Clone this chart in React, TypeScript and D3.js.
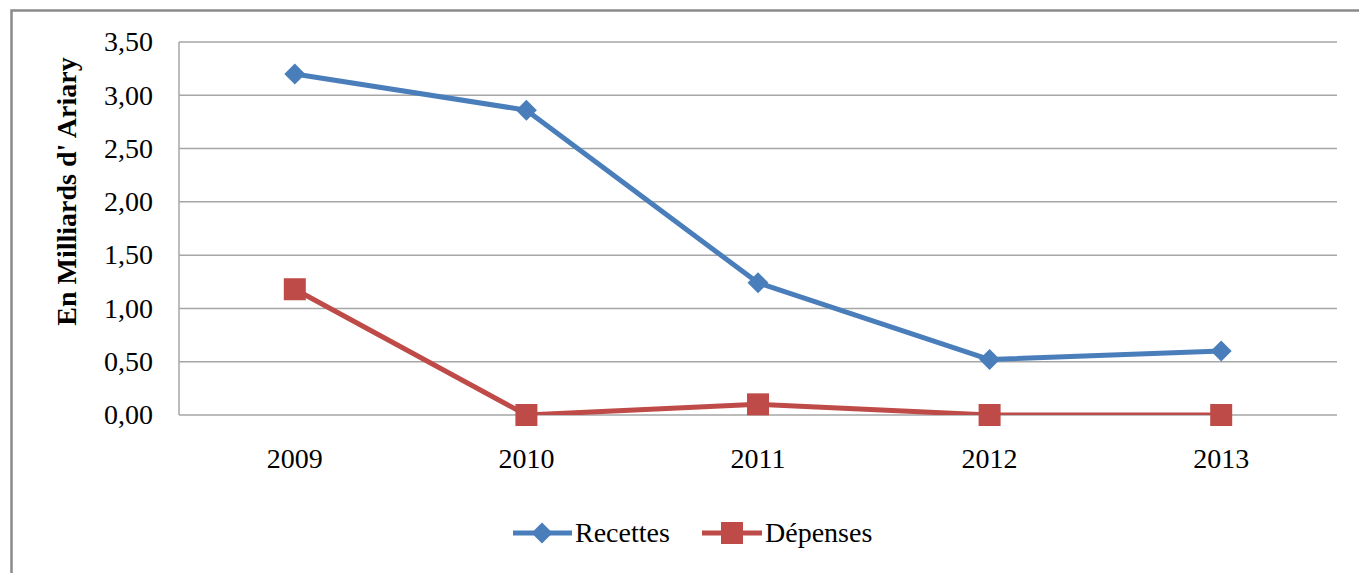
import React from "react";
import * as d3 from "d3";

const years = ["2009", "2010", "2011", "2012", "2013"];
const recettes = [3.2, 2.86, 1.24, 0.52, 0.6];
const depenses = [1.18, 0.0, 0.1, 0.0, 0.0];
const yTicks = [0, 0.5, 1, 1.5, 2, 2.5, 3, 3.5];
const yTitle = "En Milliards d' Ariary";
const seriesNames = ["Recettes", "Dépenses"];

const W = 1359;
const H = 573;
const plot = { left: 179, right: 1337, top: 42, bottom: 415 };
const BLUE = "#4A7EBB";
const RED = "#BE4B48";
const FONT = "Liberation Serif, Times New Roman, serif";
const ts: React.CSSProperties = { fontFamily: FONT };

export default function App() {
  const x = d3.scaleBand<string>().domain(years).range([plot.left, plot.right]);
  const y = d3.scaleLinear().domain([0, 3.5]).range([plot.bottom, plot.top]);
  const cx = (d: string) => (x(d) as number) + x.bandwidth() / 2;
  const line = d3
    .line<number>()
    .x((_, i) => cx(years[i]))
    .y((v) => y(v));
  const fmt = (v: number) => v.toFixed(2).replace(".", ",");
  const diamond = d3.symbol(d3.symbolDiamond2, 280)();
  const sq = 22;

  return (
    <svg
      width={W}
      height={H}
      style={{ position: "absolute", left: 0, top: 0, background: "#fff" }}
    >
      <defs>
        <clipPath id="plotClip">
          <rect
            x={plot.left}
            y={plot.top}
            width={plot.right - plot.left}
            height={plot.bottom - plot.top}
          />
        </clipPath>
      </defs>
      {/* outer frame */}
      <rect x={11.5} y={10.5} width={W + 20} height={H + 20} fill="none" stroke="#8A8A8A" strokeWidth={2.5} />

      {/* gridlines */}
      {yTicks.map((t) => (
        <line
          key={t}
          x1={plot.left}
          x2={plot.right}
          y1={y(t)}
          y2={y(t)}
          stroke="#A6A6A6"
          strokeWidth={1.5}
        />
      ))}
      <line x1={plot.left} x2={plot.left} y1={plot.top} y2={plot.bottom} stroke="#A6A6A6" strokeWidth={1.5} />

      {/* y tick labels */}
      {yTicks.map((t) => (
        <text key={t} x={153} y={y(t)} dy="0.33em" textAnchor="end" fontSize={28} fill="#000" style={ts}>
          {fmt(t)}
        </text>
      ))}
      {/* x tick labels */}
      {years.map((yr) => (
        <text key={yr} x={cx(yr)} y={468} textAnchor="middle" fontSize={28} fill="#000" style={ts}>
          {yr}
        </text>
      ))}

      {/* y title */}
      <text
        transform={`translate(76,${(53 + 330) / 2}) rotate(-90)`}
        textAnchor="middle"
        fontSize={28}
        fontWeight="bold"
        fill="#000"
        style={ts}
      >
        {yTitle}
      </text>

      {/* lines */}
      <g clipPath="url(#plotClip)">
        <path d={line(recettes) as string} fill="none" stroke={BLUE} strokeWidth={5} strokeLinejoin="round" />
        <path d={line(depenses) as string} fill="none" stroke={RED} strokeWidth={5} strokeLinejoin="round" />
      </g>
      {recettes.map((v, i) => (
        <path key={"r" + i} d={diamond as string} transform={`translate(${cx(years[i])},${y(v)})`} fill={BLUE} />
      ))}
      {depenses.map((v, i) => (
        <rect
          key={"d" + i}
          x={cx(years[i]) - sq / 2}
          y={y(v) - sq / 2}
          width={sq}
          height={sq}
          fill={RED}
        />
      ))}

      {/* legend */}
      <g>
        <line x1={513} x2={572} y1={533} y2={533} stroke={BLUE} strokeWidth={5} />
        <path d={diamond as string} transform="translate(542,533)" fill={BLUE} />
        <text x={575} y={533} dy="0.33em" fontSize={28} fill="#000" style={ts}>
          {seriesNames[0]}
        </text>
        <line x1={702} x2={762} y1={533} y2={533} stroke={RED} strokeWidth={5} />
        <rect x={732 - sq / 2} y={533 - sq / 2} width={sq} height={sq} fill={RED} />
        <text x={765} y={533} dy="0.33em" fontSize={28} fill="#000" style={ts}>
          {seriesNames[1]}
        </text>
      </g>
    </svg>
  );
}
